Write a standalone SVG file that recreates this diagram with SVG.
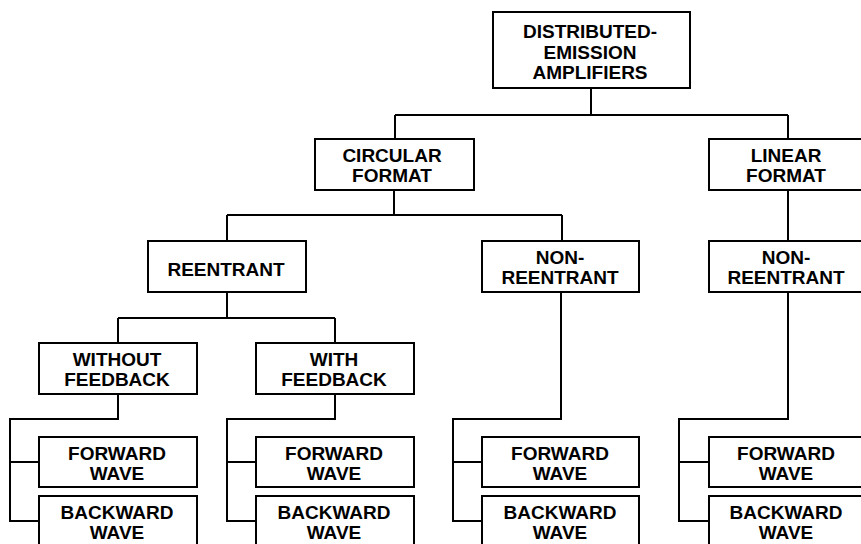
<svg xmlns="http://www.w3.org/2000/svg" width="861" height="544" viewBox="0 0 861 544">
  <style>
    .box { fill: #ffffff; stroke: #000000; stroke-width: 2; }
    .wire { fill: none; stroke: #000000; stroke-width: 2; }
    .lbl { font-family: "Liberation Sans", Arial, sans-serif; font-weight: bold; font-size: 19px; fill: #000000; text-anchor: middle; }
  </style>
  <rect width="861" height="544" fill="#ffffff"/>

  <!-- tree connectors -->
  <g id="connectors" class="wire">
    <path d="M591 88 V115 M395 115 H788 M395 115 V139 M788 115 V139"/>
    <path d="M394 190 V215 M227 215 H562 M227 215 V241 M562 215 V241"/>
    <path d="M788 190 V241"/>
    <path d="M227 292 V318 M118 318 H335 M118 318 V343 M335 318 V343"/>
    <!-- wave-type rails -->
    <path d="M118 394 V419 H10 V521 H39 M10 462 H39"/>
    <path d="M335 394 V419 H227 V521 H256 M227 462 H256"/>
    <path d="M561 292 V419 H453 V521 H482 M453 462 H482"/>
    <path d="M788 292 V419 H679 V521 H709 M679 462 H709"/>
  </g>

  <g id="root">
    <rect class="box" x="493" y="12" width="197" height="76"/>
    <text class="lbl" x="590" y="37.5">DISTRIBUTED-</text>
    <text class="lbl" x="590" y="58.5">EMISSION</text>
    <text class="lbl" x="590" y="79">AMPLIFIERS</text>
  </g>

  <g id="circular">
    <rect class="box" x="315" y="139" width="159" height="51"/>
    <text class="lbl" x="392" y="162.3">CIRCULAR</text>
    <text class="lbl" x="392" y="182.3">FORMAT</text>
  </g>

  <g id="linear">
    <rect class="box" x="709" y="139" width="158" height="51"/>
    <text class="lbl" x="786" y="162.3">LINEAR</text>
    <text class="lbl" x="786" y="182.3">FORMAT</text>
  </g>

  <g id="reentrant">
    <rect class="box" x="148" y="241" width="158" height="51"/>
    <text class="lbl" x="226" y="276">REENTRANT</text>
  </g>

  <g id="non-reentrant-circular">
    <rect class="box" x="482" y="241" width="157" height="51"/>
    <text class="lbl" x="560" y="264.3">NON-</text>
    <text class="lbl" x="560" y="284.3">REENTRANT</text>
  </g>

  <g id="non-reentrant-linear">
    <rect class="box" x="709" y="241" width="158" height="51"/>
    <text class="lbl" x="786" y="264.3">NON-</text>
    <text class="lbl" x="786" y="284.3">REENTRANT</text>
  </g>

  <g id="without-feedback">
    <rect class="box" x="39" y="343" width="158" height="51"/>
    <text class="lbl" x="117" y="366.3">WITHOUT</text>
    <text class="lbl" x="117" y="386.3">FEEDBACK</text>
  </g>

  <g id="with-feedback">
    <rect class="box" x="256" y="343" width="158" height="51"/>
    <text class="lbl" x="334" y="366.3">WITH</text>
    <text class="lbl" x="334" y="386.3">FEEDBACK</text>
  </g>

  <!-- forward / backward wave leaves -->
  <g id="forward-1">
    <rect class="box" x="39" y="437" width="158" height="50"/>
    <text class="lbl" x="117" y="460">FORWARD</text>
    <text class="lbl" x="117" y="479.5">WAVE</text>
  </g>
  <g id="backward-1">
    <rect class="box" x="39" y="496" width="158" height="51"/>
    <text class="lbl" x="117" y="519">BACKWARD</text>
    <text class="lbl" x="117" y="539">WAVE</text>
  </g>

  <g id="forward-2">
    <rect class="box" x="256" y="437" width="158" height="50"/>
    <text class="lbl" x="334" y="460">FORWARD</text>
    <text class="lbl" x="334" y="479.5">WAVE</text>
  </g>
  <g id="backward-2">
    <rect class="box" x="256" y="496" width="158" height="51"/>
    <text class="lbl" x="334" y="519">BACKWARD</text>
    <text class="lbl" x="334" y="539">WAVE</text>
  </g>

  <g id="forward-3">
    <rect class="box" x="482" y="437" width="157" height="50"/>
    <text class="lbl" x="560" y="460">FORWARD</text>
    <text class="lbl" x="560" y="479.5">WAVE</text>
  </g>
  <g id="backward-3">
    <rect class="box" x="482" y="496" width="157" height="51"/>
    <text class="lbl" x="560" y="519">BACKWARD</text>
    <text class="lbl" x="560" y="539">WAVE</text>
  </g>

  <g id="forward-4">
    <rect class="box" x="709" y="437" width="158" height="50"/>
    <text class="lbl" x="786" y="460">FORWARD</text>
    <text class="lbl" x="786" y="479.5">WAVE</text>
  </g>
  <g id="backward-4">
    <rect class="box" x="709" y="496" width="158" height="51"/>
    <text class="lbl" x="786" y="519">BACKWARD</text>
    <text class="lbl" x="786" y="539">WAVE</text>
  </g>
</svg>
